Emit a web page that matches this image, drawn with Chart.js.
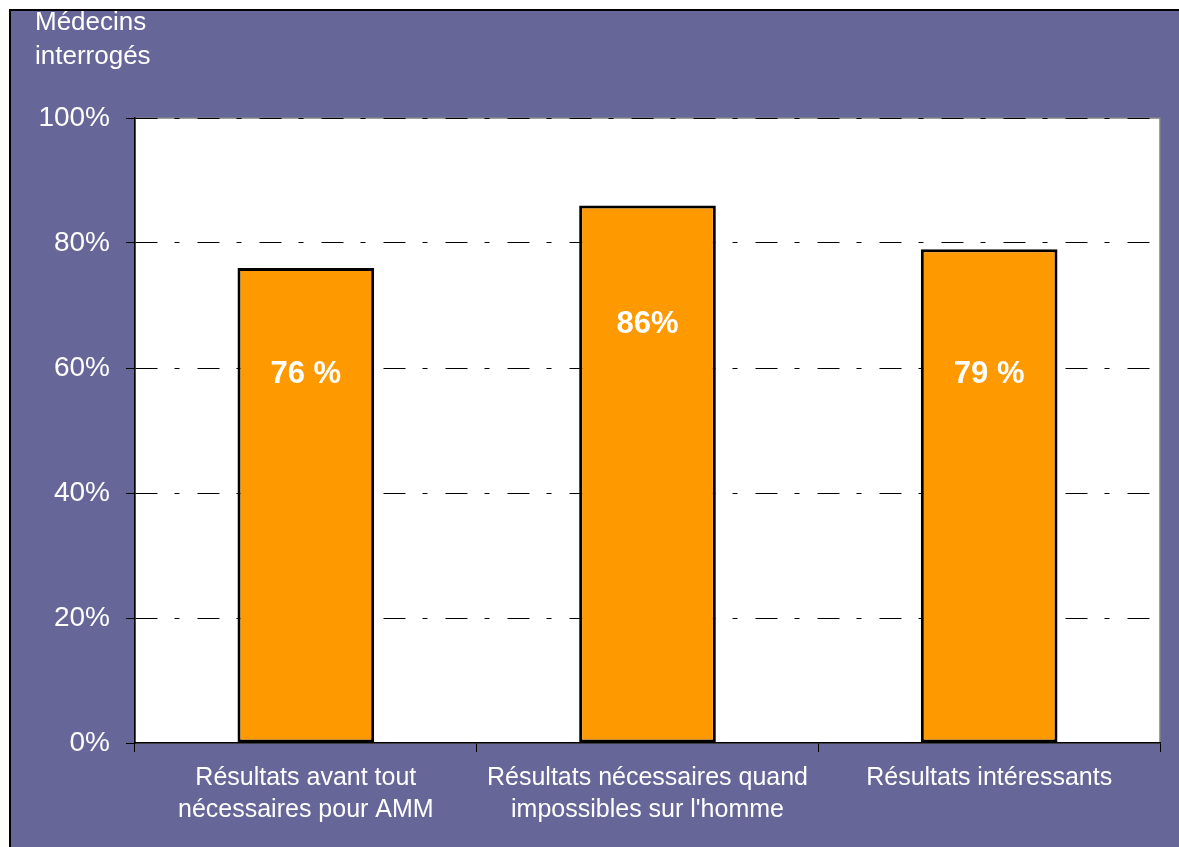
<!DOCTYPE html>
<html>
<head>
<meta charset="utf-8">
<script src="https://cdn.jsdelivr.net/npm/chart.js@4/dist/chart.umd.min.js"></script>
<style>
  html, body { margin: 0; padding: 0; background: #fff; }
  #wrap { width: 1179px; height: 847px; position: relative; }
</style>
</head>
<body>
<div id="wrap"><canvas id="chart" width="1179" height="847"></canvas></div>
<script>
const categories = [
  ['Résultats avant tout', 'nécessaires pour AMM'],
  ['Résultats nécessaires quand', 'impossibles sur l\'homme'],
  ['Résultats intéressants']
];
const values = [76, 86, 79];
const valueLabels = ['76 %', '86%', '79 %'];
// where the white labels sit inside each bar, in % of the axis
const labelAt = [59, 67, 59];
const yTitle = ['Médecins', 'interrogés'];

const FONT = '"Liberation Sans", Arial, sans-serif';
const purple = '#666699';

const frame = {
  id: 'frame',
  beforeDraw(chart) {
    const { ctx, width, height, chartArea: a } = chart;
    ctx.save();
    ctx.fillStyle = '#fff';
    ctx.fillRect(0, 0, width, height);
    ctx.fillStyle = purple;
    ctx.fillRect(9, 10, width - 9, height - 10);
    ctx.strokeStyle = '#000';
    ctx.lineWidth = 2;
    ctx.beginPath();
    ctx.moveTo(10, height);
    ctx.lineTo(10, 10);
    ctx.lineTo(width, 10);
    ctx.stroke();
    // plot area
    ctx.fillStyle = '#fff';
    ctx.fillRect(a.left, a.top, a.right - a.left, a.bottom - a.top);
    ctx.strokeStyle = '#808080';
    ctx.lineWidth = 1.5;
    ctx.strokeRect(a.left, a.top, a.right - a.left, a.bottom - a.top);
    // axis title
    ctx.fillStyle = '#fff';
    ctx.font = '26px ' + FONT;
    ctx.textBaseline = 'middle';
    ctx.textAlign = 'left';
    ctx.fillText(yTitle[0], 35, 23);
    ctx.fillText(yTitle[1], 35, 57);
    ctx.restore();
  },
  afterDatasetsDraw(chart) {
    const { ctx } = chart;
    const meta = chart.getDatasetMeta(0);
    const y = chart.scales.y;
    ctx.save();
    ctx.fillStyle = '#fff';
    ctx.font = 'bold 31px ' + FONT;
    ctx.textAlign = 'center';
    ctx.textBaseline = 'middle';
    meta.data.forEach((bar, i) => {
      ctx.fillText(valueLabels[i], bar.x, y.getPixelForValue(labelAt[i]));
    });
    ctx.restore();
  }
};

new Chart(document.getElementById('chart'), {
  type: 'bar',
  data: {
    labels: categories,
    datasets: [{
      data: values,
      backgroundColor: '#FF9900',
      borderColor: '#000',
      borderWidth: 3,
      borderSkipped: false,
      barPercentage: 0.4,
      categoryPercentage: 1
    }]
  },
  options: {
    responsive: false,
    animation: false,
    layout: { padding: { left: 0, top: 118, right: 19, bottom: 0 } },
    plugins: { legend: { display: false }, tooltip: { enabled: false } },
    scales: {
      y: {
        min: 0,
        max: 100,
        afterFit(s) { s.width = 135; },
        ticks: {
          stepSize: 20,
          color: '#fff',
          padding: 16,
          font: { family: FONT, size: 28 },
          callback: v => v + '%'
        },
        grid: {
          color: c => (c.tick && c.tick.value === 0) ? 'rgba(0,0,0,0)' : '#000',
          lineWidth: 1,
          tickLength: 9,
          tickBorderDash: [],
          tickColor: '#000'
        },
        border: { display: true, color: '#000', width: 1.5, dash: [22, 17, 5, 18] }
      },
      x: {
        afterFit(s) { s.height = 104; },
        ticks: {
          color: '#fff',
          padding: 10,
          maxRotation: 0,
          font: { family: FONT, size: 25, lineHeight: 1.28 }
        },
        grid: {
          offset: true,
          drawOnChartArea: false,
          color: '#000',
          tickLength: 9
        },
        border: { display: true, color: '#000', width: 1.5 }
      }
    }
  },
  plugins: [frame]
});
</script>
</body>
</html>
